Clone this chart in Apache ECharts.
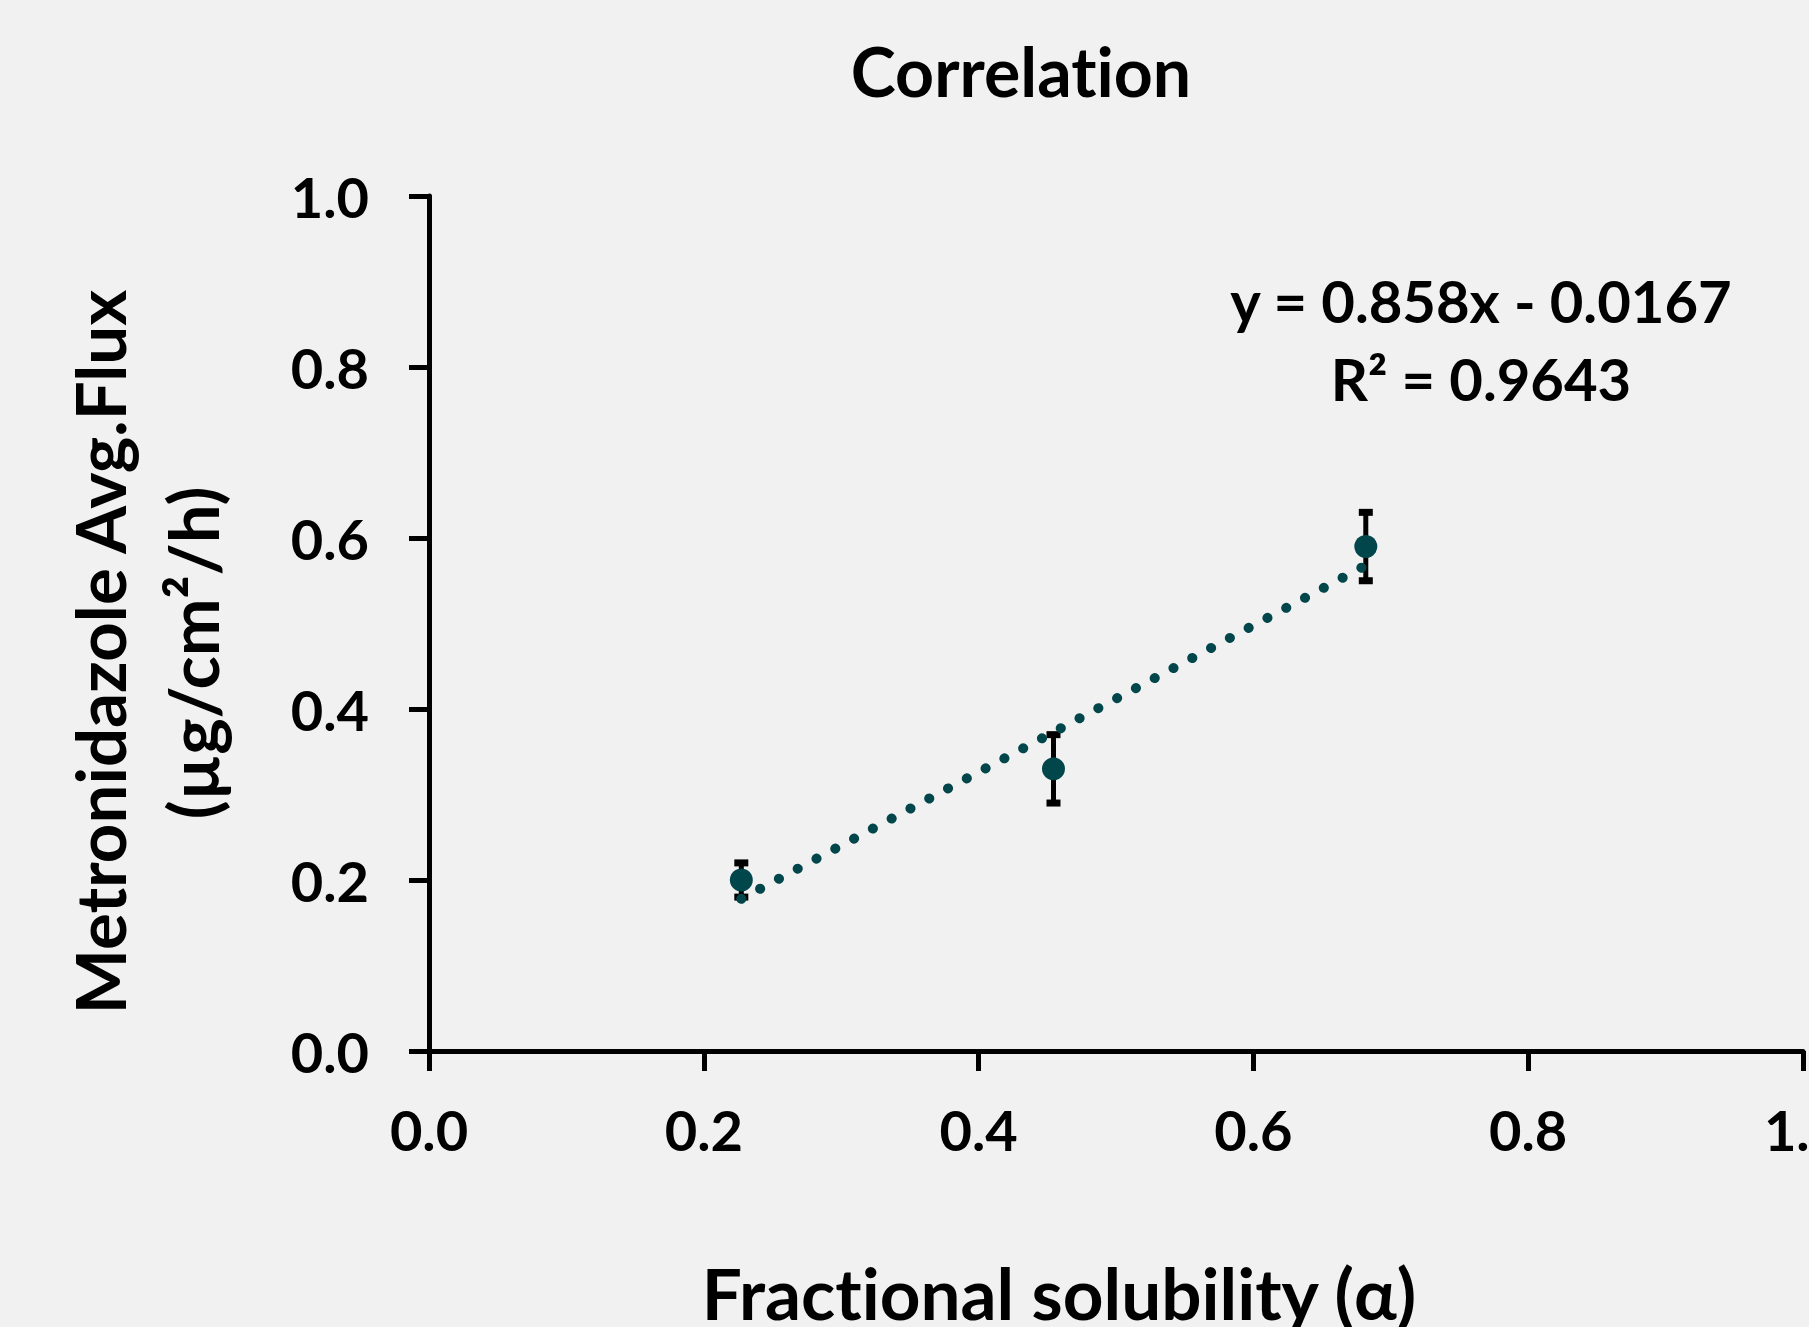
<!DOCTYPE html>
<html>
<head>
<meta charset="utf-8">
<script src="https://cdn.jsdelivr.net/npm/echarts@6/dist/echarts.min.js"></script>
<style>
  html, body { margin: 0; padding: 0; background: #f1f1f1; overflow: hidden; }
  #chart { width: 1809px; height: 1327px; }
  #chart text { font-variant-ligatures: none !important; }
</style>
</head>
<body>
<div id="chart"></div>
<script>
// values
const fractionalSolubility = [0.2273, 0.4545, 0.6818];
const avgFlux = [0.20, 0.33, 0.59];
const fluxError = [0.02, 0.04, 0.04];

// dotted trendline ends
const trendX = [0.2273, 0.6818];
const trendY = [0.178, 0.568];

const equationText = 'y = 0.858x - 0.0167';
const r2Text = 'R² = 0.9643';

const FONT = 'Lato';
const teal = '#00464b';

const chart = echarts.init(document.getElementById('chart'), null, { renderer: 'svg' });

const points = fractionalSolubility.map((x, i) => [x, avgFlux[i]]);
const errData = fractionalSolubility.map((x, i) => [x, avgFlux[i] - fluxError[i], avgFlux[i] + fluxError[i]]);
const trendData = trendX.map((x, i) => [x, trendY[i]]);

const axisCommon = {
  type: 'value',
  min: 0,
  max: 1,
  interval: 0.2,
  splitLine: { show: false },
  axisLine: { show: true, onZero: false, lineStyle: { color: '#000', width: 5 } },
  axisTick: { show: true, inside: false, length: 20, lineStyle: { color: '#000', width: 5 } },
  axisLabel: {
    color: '#000',
    fontFamily: FONT,
    fontWeight: 'bold',
    fontSize: 56,
    formatter: v => v.toFixed(1)
  }
};

const option = {
  backgroundColor: '#f1f1f1',
  animation: false,
  grid: { left: 429, right: 6, top: 196, bottom: 276, containLabel: false, outerBoundsMode: 'none' },
  xAxis: Object.assign({}, axisCommon, {
    axisLabel: Object.assign({}, axisCommon.axisLabel, { margin: 50, showMaxLabel: true, hideOverlap: false })
  }),
  yAxis: Object.assign({}, axisCommon, {
    axisLabel: Object.assign({}, axisCommon.axisLabel, { margin: 60, padding: [0, 0, 7, 0] })
  }),
  graphic: [
    { type: 'text', x: 1021, y: 70, style: { text: 'Correlation', font: `bold 68px ${FONT}`, fill: '#000', align: 'center', verticalAlign: 'middle' } },
    { type: 'text', x: 1059, y: 1292, style: { text: 'Fractional solubility (α)', font: `bold 71px ${FONT}`, fill: '#000', align: 'center', verticalAlign: 'middle' } },
    { type: 'text', x: 99, y: 652, rotation: Math.PI / 2, style: { text: 'Metronidazole Avg.Flux', font: `bold 69px ${FONT}`, fill: '#000', align: 'center', verticalAlign: 'middle' } },
    { type: 'text', x: 192, y: 653, rotation: Math.PI / 2, style: { text: '(µg/cm²/h)', font: `bold 69px ${FONT}`, fill: '#000', align: 'center', verticalAlign: 'middle' } },
    { type: 'text', x: 1481, y: 300, style: { text: equationText, font: `bold 58px ${FONT}`, fill: '#000', align: 'center', verticalAlign: 'middle' } },
    { type: 'text', x: 1481, y: 378, style: { text: r2Text, font: `bold 58px ${FONT}`, fill: '#000', align: 'center', verticalAlign: 'middle' } }
  ],
  series: [
    {
      // error bars
      type: 'custom',
      z: 1,
      data: errData,
      renderItem: function (params, api) {
        const lo = api.coord([api.value(0), api.value(1)]);
        const hi = api.coord([api.value(0), api.value(2)]);
        const capW = 7;
        const stem = { stroke: '#000', lineWidth: 5 };
        const cap = { stroke: '#000', lineWidth: 7 };
        return {
          type: 'group',
          children: [
            { type: 'line', shape: { x1: hi[0], y1: hi[1], x2: lo[0], y2: lo[1] }, style: stem },
            { type: 'line', shape: { x1: hi[0] - capW, y1: hi[1], x2: hi[0] + capW, y2: hi[1] }, style: cap },
            { type: 'line', shape: { x1: lo[0] - capW, y1: lo[1], x2: lo[0] + capW, y2: lo[1] }, style: cap }
          ]
        };
      }
    },
    {
      type: 'scatter',
      z: 2,
      data: points,
      symbol: 'circle',
      symbolSize: 23,
      itemStyle: { color: teal, opacity: 1 }
    },
    {
      type: 'line',
      z: 3,
      data: trendData,
      showSymbol: false,
      symbol: 'none',
      lineStyle: { color: teal, width: 10, type: [0.1, 21.2], cap: 'round', opacity: 1 }
    }
  ]
};

chart.setOption(option);
window.addEventListener('resize', () => chart.resize());
</script>
</body>
</html>
